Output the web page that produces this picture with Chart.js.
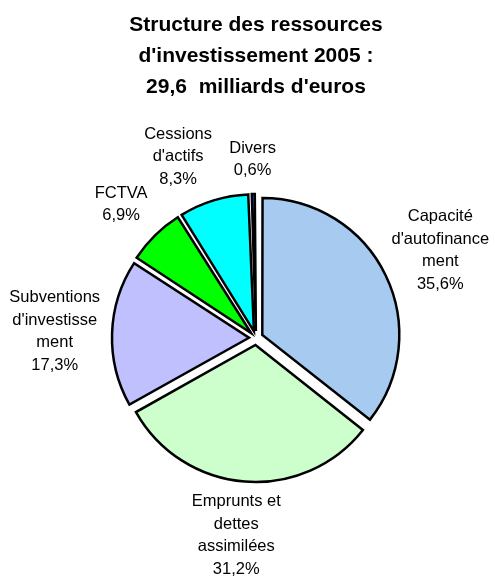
<!DOCTYPE html>
<html><head><meta charset="utf-8">
<script src="https://cdn.jsdelivr.net/npm/chart.js@4.4.1/dist/chart.umd.min.js"></script>
<style>html,body{margin:0;padding:0;background:#fff}#wrap{width:495px;height:576px;position:relative}</style>
</head><body><div id="wrap"><canvas id="c"></canvas></div>
<script>
const categories = ["Capacité d'autofinancement", "Emprunts et dettes assimilées", "Subventions d'investissement", "FCTVA", "Cessions d'actifs", "Divers"];
const labelLines = [["Capacité","d'autofinance","ment"],["Emprunts et","dettes","assimilées"],["Subventions","d'investisse","ment"],["FCTVA"],["Cessions","d'actifs"],["Divers"]];
const shares = [35.6, 31.2, 17.3, 6.9, 8.3, 0.6];
const sliceColors = ["#A6CAF0","#CCFFCC","#C0C0FF","#00FF00","#00FFFF","#3366FF"];
const titleLines = ["Structure des ressources","d'investissement 2005 :","29,6  milliards d'euros"];

const FONT = '"Liberation Sans", Arial, Helvetica, sans-serif';
const EXPLODE = 7;   // outward shift of each slice, px
const BASE_R = 137;  // pie radius, px

function fmt(v){ return v.toFixed(1).replace('.', ',') + '%'; }

const evenRadius = {
  id:'evenRadius',
  afterDatasetsUpdate(chart){
    const meta = chart.getDatasetMeta(0);
    meta.data.forEach(arc=>{
      const fix = 1 - Math.sin(Math.min(Math.PI, arc.circumference || 0));
      arc.outerRadius = BASE_R - EXPLODE*fix;
    });
  }
};

const sliceLabels = {
  id:'sliceLabels',
  afterDraw(chart, args, opts){
    const ctx = chart.ctx;
    const meta = chart.getDatasetMeta(0);
    ctx.save();
    ctx.font = opts.size + 'px ' + FONT;
    ctx.fillStyle = '#000';
    ctx.textAlign = 'center';
    ctx.textBaseline = 'middle';
    meta.data.forEach((arc,i)=>{
      const lines = labelLines[i].concat([fmt(shares[i])]);
      const mid = (arc.startAngle + arc.endAngle)/2;
      const dx = Math.cos(mid), dy = Math.sin(mid);
      const dist = EXPLODE + BASE_R + opts.gap;
      const px = arc.x + dx*dist, py = arc.y + dy*dist;
      const w = Math.max(...lines.map(l=>ctx.measureText(l).width));
      const h = lines.length*opts.lineHeight;
      const n = opts.nudge[i] || [0,0];
      const cx = px + dx*w/2 + n[0];
      const cy = py + dy*h/2 + n[1];
      lines.forEach((l,k)=>ctx.fillText(l, cx, cy - h/2 + opts.lineHeight*(k+0.5)));
    });
    ctx.restore();
  }
};

new Chart(document.getElementById('c'), {
  type:'pie',
  data:{
    labels: categories,
    datasets:[{
      data: shares,
      backgroundColor: sliceColors,
      borderColor:'#000',
      borderWidth:2.5,
      borderJoinStyle:'miter',
      offset: 4*EXPLODE
    }]
  },
  options:{
    responsive:true,
    maintainAspectRatio:false,
    animation:false,
    radius: BASE_R,
    layout:{padding:{left:17,right:0,top:0,bottom:3}},
    plugins:{
      legend:{display:false},
      tooltip:{enabled:false},
      title:{display:true, text:titleLines, color:'#000',
        font:{family:FONT, size:21, weight:'bold', lineHeight:1.476},
        padding:{top:10,bottom:0}},
      sliceLabels:{size:16.5, lineHeight:22.5, gap:12,
        nudge:[[0,0],[-4,-3],[0,0],[-7,-6],[-22,0],[0,0]]}
    }
  },
  plugins:[evenRadius, sliceLabels]
});
</script></body></html>
